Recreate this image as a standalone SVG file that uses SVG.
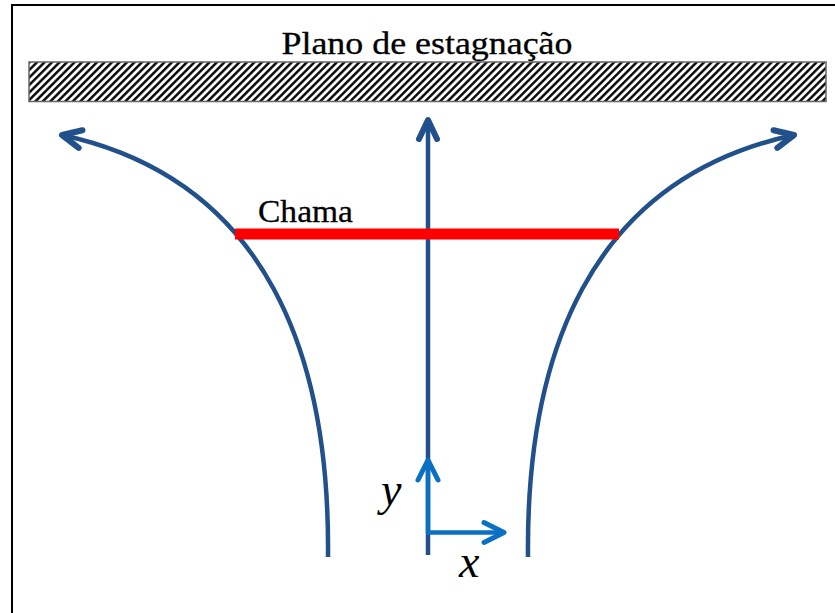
<svg xmlns="http://www.w3.org/2000/svg" width="835" height="613" viewBox="0 0 835 613">
<style>
.flow{fill:none;stroke:#22508A;stroke-width:4.5}
.axis{fill:none;stroke:#0A70C4;stroke-width:4.5;stroke-linecap:butt}
.lbl{font-family:"Liberation Serif",serif;fill:#000;stroke:#000;stroke-width:0.3}
.math{font-family:"Liberation Serif",serif;font-style:italic;fill:#000}
</style>
<defs>
<pattern id="hatch" patternUnits="userSpaceOnUse" width="5.3" height="5.3" patternTransform="rotate(45)">
<rect width="5.3" height="5.3" fill="#fff"/>
<line x1="1.3" y1="0" x2="1.3" y2="5.3" stroke="#000" stroke-width="2.4"/>
</pattern>
<marker id="ahDark" markerUnits="userSpaceOnUse" orient="auto" refX="0" refY="0" markerWidth="40" markerHeight="40" viewBox="-30 -20 40 40" overflow="visible">
<path d="M-19,-9 L0,0 L-19,9" fill="none" stroke="#22508A" stroke-width="6" stroke-linecap="round" stroke-linejoin="round"/>
</marker>
<marker id="ahLight" markerUnits="userSpaceOnUse" orient="auto" refX="0" refY="0" markerWidth="40" markerHeight="40" viewBox="-30 -20 40 40" overflow="visible">
<path d="M-20,-10 L0,0 L-20,10" fill="none" stroke="#0A70C4" stroke-width="5" stroke-linecap="round" stroke-linejoin="round"/>
</marker>
</defs>
<rect x="0" y="0" width="835" height="613" fill="#fff"/>
<rect x="12" y="5" width="840" height="640" fill="none" stroke="#000" stroke-width="2"/>
<g id="plano">
<rect x="29" y="62" width="797" height="39.5" fill="url(#hatch)" stroke="#666" stroke-width="1.5"/>
<text class="lbl" x="427" y="54" font-size="32" text-anchor="middle" textLength="291" lengthAdjust="spacingAndGlyphs">Plano de estagnação</text>
</g>
<g id="connectors">
<path class="flow" d="M328,557 C330,360 270,180 62,135" marker-end="url(#ahDark)"/>
<path class="flow" d="M528,557 C526,360 586,180 794,135" marker-end="url(#ahDark)"/>
<path class="flow" d="M428,555 L428,120" marker-end="url(#ahDark)"/>
</g>
<g id="chama">
<line x1="235" y1="234" x2="619" y2="234" stroke="#FF0000" stroke-width="11"/>
<text class="lbl" x="258" y="222" font-size="31" textLength="95" lengthAdjust="spacingAndGlyphs">Chama</text>
</g>
<g id="eixos">
<path class="axis" d="M428,533 L428,460" marker-end="url(#ahLight)"/>
<path class="axis" d="M426,532.5 L504,532.5" marker-end="url(#ahLight)"/>
<text class="math" x="381" y="505" font-size="46">y</text>
<text class="math" x="459" y="577" font-size="46">x</text>
</g>
</svg>
